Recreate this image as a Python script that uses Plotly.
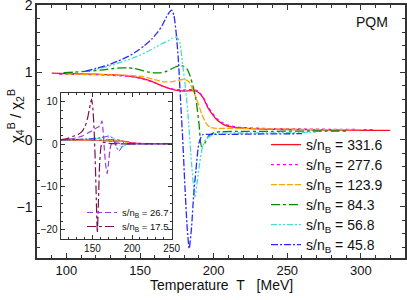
import plotly.graph_objects as go

# ---- data ----
labels = ["331.6", "277.6", "123.9", "84.3", "56.8", "45.8"]

T_red = [90, 100, 110, 120, 130, 140, 145, 150, 155, 160, 165, 170, 175, 180, 185, 188, 190, 193, 196, 199, 202, 205, 208, 212, 218, 225, 240, 260, 280, 300, 320]
V_red = [0.99, 0.985, 0.98, 0.975, 0.97, 0.955, 0.94, 0.92, 0.89, 0.85, 0.80, 0.76, 0.735, 0.725, 0.73, 0.725, 0.70, 0.62, 0.48, 0.38, 0.30, 0.25, 0.215, 0.19, 0.175, 0.165, 0.155, 0.15, 0.145, 0.14, 0.14]

T_mag = [95, 100, 110, 120, 130, 140, 145, 150, 155, 160, 165, 170, 175, 180, 185, 188, 190, 193, 196, 199, 202, 205, 208, 212, 218, 225, 240, 260, 280, 310]
V_mag = [0.975, 0.975, 0.972, 0.968, 0.96, 0.948, 0.935, 0.915, 0.885, 0.845, 0.80, 0.765, 0.745, 0.74, 0.745, 0.74, 0.71, 0.63, 0.50, 0.40, 0.32, 0.265, 0.23, 0.205, 0.185, 0.175, 0.165, 0.16, 0.155, 0.15]

T_ora = [100, 110, 120, 130, 140, 150, 155, 160, 165, 168, 172, 176, 180, 183, 186, 189, 192, 195, 198, 202, 210, 220, 240, 260, 280, 300]
V_ora = [0.98, 0.975, 0.97, 0.965, 0.96, 0.945, 0.925, 0.895, 0.865, 0.86, 0.865, 0.885, 0.90, 0.87, 0.74, 0.57, 0.38, 0.24, 0.18, 0.17, 0.17, 0.165, 0.16, 0.155, 0.15, 0.15]

T_grn = [98, 105, 115, 125, 132, 138, 142, 146, 150, 155, 160, 163, 167, 171, 175, 178, 180, 182, 184, 186, 188, 190, 191.8, 194, 196, 198, 201, 205, 215, 240, 265, 290]
V_grn = [1.0, 1.005, 1.02, 1.04, 1.06, 1.07, 1.07, 1.06, 1.04, 1.01, 0.995, 0.995, 1.01, 1.05, 1.09, 1.10, 1.09, 1.05, 0.95, 0.80, 0.60, 0.25, -0.10, -0.05, 0.04, 0.08, 0.11, 0.12, 0.125, 0.125, 0.13, 0.13]

T_cya = [113, 120, 128, 135, 142, 148, 154, 160, 165, 169, 172, 175, 177, 179, 181, 183, 185, 187.3, 189, 190.5, 192.5, 194.5, 196, 199, 203, 210, 230, 250, 270]
V_cya = [1.02, 1.05, 1.09, 1.14, 1.19, 1.24, 1.30, 1.37, 1.43, 1.47, 1.51, 1.53, 1.45, 1.10, 0.75, 0.25, -0.35, -0.85, -0.60, -0.35, -0.10, 0.0, 0.03, 0.07, 0.10, 0.10, 0.10, 0.105, 0.11]

T_blu = [113, 120, 128, 135, 142, 148, 153, 158, 162, 165, 168, 170, 171.5, 173, 174.5, 176, 177.5, 179, 180.5, 182, 183.4, 185, 186.5, 188, 190, 192.5, 195, 200, 210, 230, 260]
V_blu = [1.02, 1.06, 1.11, 1.17, 1.24, 1.32, 1.40, 1.50, 1.60, 1.70, 1.83, 1.90, 1.93, 1.85, 1.60, 1.20, 0.60, 0.0, -0.70, -1.30, -1.62, -1.30, -0.80, -0.45, -0.05, 0.075, 0.08, 0.08, 0.08, 0.085, 0.09]

inset_labels = ["26.7", "17.5"]
T_pur = [110, 120, 130, 138, 145, 150, 155, 158, 160, 162, 163.5, 165, 166.5, 168.5, 170, 172, 174, 176, 180, 190, 200, 220, 250]
V_pur = [1.0, 1.2, 1.5, 2.0, 2.7, 3.2, 3.8, 4.1, 4.4, 5.5, 3.0, -1.0, -4.5, -6.9, -5.0, -1.5, 0.2, 0.5, 0.3, 0.15, 0.1, 0.1, 0.1]

T_mar = [110, 118, 125, 132, 137, 141, 144, 146, 147.5, 149, 150.5, 152, 153.2, 154.5, 156.2, 157.5, 159, 160.5, 162, 165, 170, 180, 200, 250]
V_mar = [1.0, 1.3, 1.8, 2.3, 3.0, 4.3, 6.2, 8.0, 9.5, 10.6, 8.5, 4.0, -1.8, -10.0, -20.7, -14.0, -5.0, -1.0, 0.3, 0.4, 0.2, 0.1, 0.1, 0.1]

main_T = [T_red, T_mag, T_ora, T_grn, T_cya, T_blu]
main_V = [V_red, V_mag, V_ora, V_grn, V_cya, V_blu]
colors = ["#ff1020", "#ff00ff", "#ffa500", "#008c00", "#40e0d0", "#2a2aff"]
dashes = ["solid", "dot", "6px,2px", "dashdot", "6px,2px,2px,2px,2px,2px", "7px,2px,2px,2px"]

FONT = "Liberation Sans, Arial, sans-serif"

W, H = 407, 300
L, R, Tm, B = 37, 2, 5, 42
pw, ph = W - L - R, H - Tm - B


def px_x(p):
    return (p - L) / pw


def px_y(p):
    return (H - B - p) / ph


fig = go.Figure()

main_leg_names = ["legend", "legend3", "legend4", "legend5", "legend6", "legend7"]
for T, V, c, d, lab, lg in zip(main_T, main_V, colors, dashes, labels, main_leg_names):
    fig.add_trace(go.Scatter(x=T, y=V, mode="lines", name=f"s/n<sub>B</sub> = {lab}",
                             line=dict(color=c, width=1.3, dash=d, shape="spline", smoothing=0.6),
                             legend=lg))

# inset copies of the main curves
for T, V, c, d in zip(main_T, main_V, colors, dashes):
    fig.add_trace(go.Scatter(x=T, y=V, mode="lines", showlegend=False,
                             line=dict(color=c, width=1.0, dash=d, shape="spline", smoothing=0.6),
                             xaxis="x2", yaxis="y2"))

fig.add_trace(go.Scatter(x=T_pur, y=V_pur, mode="lines", name=f"s/n<sub>B</sub> = {inset_labels[0]}",
                         line=dict(color="#9a40d8", width=1.2, dash="6px,3px", shape="spline", smoothing=0.5),
                         xaxis="x2", yaxis="y2", legend="legend2"))
fig.add_trace(go.Scatter(x=T_mar, y=V_mar, mode="lines", name=f"s/n<sub>B</sub> = {inset_labels[1]}",
                         line=dict(color="#7a1050", width=1.2, dash="dashdot", shape="spline", smoothing=0.5),
                         xaxis="x2", yaxis="y2", legend="legend8"))

axis_common = dict(showline=True, linecolor="#333", mirror="allticks", ticks="inside",
                   showgrid=False, zeroline=False, tickcolor="#333", ticklabeloverflow="allow")

legends = {}
for i, lg in enumerate(main_leg_names):
    legends[lg] = dict(x=px_x(266), y=px_y(145 + 20 * i), xanchor="left", yanchor="middle",
                       bgcolor="rgba(0,0,0,0)", font=dict(size=14, family=FONT))
legends["legend2"] = dict(x=px_x(82), y=px_y(212.5), xanchor="left", yanchor="middle",
                          bgcolor="rgba(0,0,0,0)", font=dict(size=9.5, family=FONT))
legends["legend8"] = dict(x=px_x(82), y=px_y(226.5), xanchor="left", yanchor="middle",
                          bgcolor="rgba(0,0,0,0)", font=dict(size=9.5, family=FONT))

fig.update_layout(
    width=W, height=H,
    margin=dict(l=L, r=R, t=Tm, b=B, autoexpand=False),
    paper_bgcolor="white", plot_bgcolor="white",
    font=dict(family=FONT, color="#111"),
    xaxis=dict(range=[80, 330], dtick=50, tick0=0, ticklen=5, linewidth=1.5,
               tickfont=dict(size=13), minor=dict(dtick=10, ticks="inside", ticklen=3, tickcolor="#333"),
               **axis_common),
    yaxis=dict(range=[-1.76, 2.005], dtick=1, tick0=0, ticklen=5, linewidth=1.5,
               tickfont=dict(size=14), minor=dict(dtick=0.2, ticks="inside", ticklen=3, tickcolor="#333"),
               **axis_common),
    xaxis2=dict(domain=[px_x(60.7), px_x(171.7)], anchor="y2", range=[110, 250], dtick=50, tick0=0,
                ticklen=4, linewidth=1.2, tickfont=dict(size=10),
                minor=dict(dtick=10, ticks="inside", ticklen=2, tickcolor="#333"), **axis_common),
    yaxis2=dict(domain=[px_y(239), px_y(93)], anchor="x2", range=[-22.2, 12.0], dtick=10, tick0=0,
                ticklen=4, linewidth=1.2, tickfont=dict(size=10),
                minor=dict(dtick=2, ticks="inside", ticklen=2, tickcolor="#333"), **axis_common),
    showlegend=True,
    **legends,
)

fig.add_shape(type="rect", xref="x2 domain", yref="y2 domain", x0=0, x1=1, y0=0, y1=1,
              fillcolor="white", line=dict(width=0), layer="below")

fig.add_annotation(text="PQM", xref="paper", yref="paper", x=px_x(372), y=px_y(22),
                   xanchor="center", yanchor="middle",
                   showarrow=False, font=dict(size=14, family=FONT))
fig.add_annotation(text="Temperature\u00a0\u00a0T\u00a0\u00a0\u00a0[MeV]", xref="paper", yref="paper",
                   x=px_x(221), y=px_y(285), xanchor="center", yanchor="middle",
                   showarrow=False, font=dict(size=14, family=FONT))
fig.add_annotation(text="χ<sub>4</sub><sup>B</sup> / χ<sub>2</sub><sup>B</sup>", xref="paper", yref="paper",
                   x=px_x(15), y=px_y(116), xanchor="center", yanchor="middle",
                   textangle=-90, showarrow=False, font=dict(size=15, family=FONT))

fig.write_html("out.html", config={"displayModeBar": False},
               post_script="document.body.style.margin='0';document.body.style.overflow='hidden';")
